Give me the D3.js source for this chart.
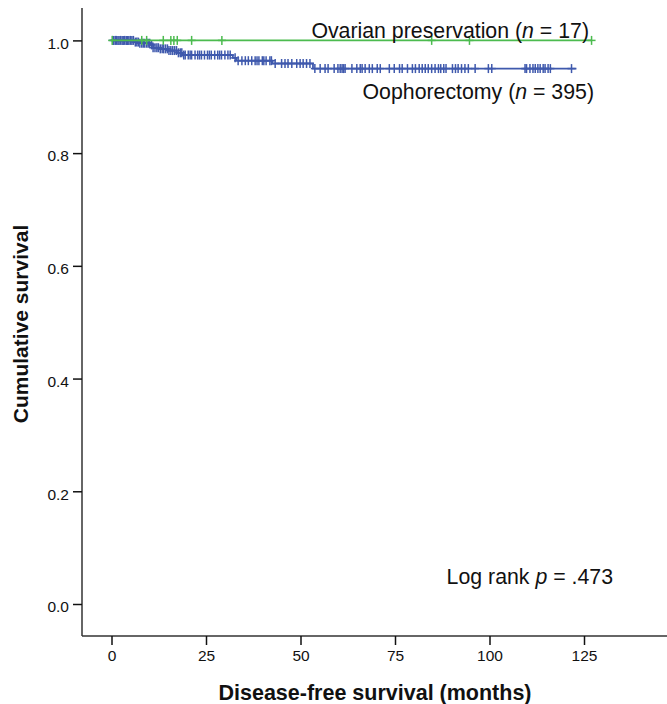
<!DOCTYPE html>
<html>
<head>
<meta charset="utf-8">
<script src="https://cdn.jsdelivr.net/npm/d3@7"></script>
<style>
  html, body { margin: 0; padding: 0; background: #fff; }
  svg { display: block; font-family: Arial, "Liberation Sans", sans-serif; }
</style>
</head>
<body>
<svg id="chart" width="667" height="704"></svg>
<script>
// ---- data ----
const xTicks = [0, 25, 50, 75, 100, 125];
const yTicks = [0.0, 0.2, 0.4, 0.6, 0.8, 1.0];

// Oophorectomy (n = 395): step times (months) and survival after each step
const oophStepTimes = [0, 6.2, 7.5, 10.2, 11, 12.8, 15, 17.3, 18.7, 32.1, 33, 42.5, 53.3];
const oophStepSurv  = [1.0, 0.997, 0.995, 0.992, 0.987, 0.985, 0.982, 0.978, 0.974, 0.969, 0.964, 0.959, 0.950];
const oophEnd = 123;
const oophCensor = [
  0.3, 0.6, 1, 1.3, 1.7, 2, 2.4, 2.8, 3.1, 3.5, 3.9, 4.3, 4.6, 5, 5.4, 5.8, 6.3, 6.7, 7.1, 7.5,
  8, 8.4, 8.8, 9.3, 9.7, 10.1, 10.6, 11, 11.5, 12, 12.4, 12.9, 13.4, 13.8, 14.3, 14.8, 15.2, 15.7,
  16.2, 16.7, 17.2, 17.7, 18.2, 18.6, 19.1, 19.5, 20.3, 20.8, 21.2, 22.1, 22.8, 23.3, 23.8, 24.6,
  25.4, 25.9, 26.4, 27.3, 28.1, 28.6, 29.1, 30.0, 30.8, 31.4,
  32.7, 33.5, 34.5, 35.4, 36.2, 37.1, 38.0, 38.5, 39, 39.9, 40.3, 40.9, 41.9, 42.3,
  43.3, 45, 45.9, 46.7, 47.7, 49, 49.9, 50.7, 51.6, 52.5,
  53.8, 55.2, 56.5, 57.3, 58.9, 59.9, 60.5, 61, 61.4, 61.8, 63.6, 64.9, 65.8, 66.3, 67.1, 68.2,
  69, 70.3, 71.1, 73.5, 74.8, 76.2, 76.9, 78.3, 79.6, 80.4, 81.4, 82.2, 83,
  83.8, 84.7, 85.6, 86.5, 87.1, 87.9, 88.5, 90.2, 91.0, 91.7, 92.6, 93.5, 94.4, 96.2, 99.7, 100.6,
  109.4, 109.8, 110.7, 111.5, 112.1, 112.8, 113.4, 114.2, 114.7, 115.5, 116.1, 121.7
];

// Ovarian preservation (n = 17): no events
const ovStepTimes = [0];
const ovStepSurv  = [1.0];
const ovEnd = 127;
const ovCensor = [0.2, 8, 9.3, 13.7, 15.7, 16.5, 17.4, 21.2, 29.2, 84.7, 94.7, 127];

// ---- layout ----
const svg = d3.select("#chart");
const x = d3.scaleLinear().domain([0, 125]).range([111.5, 584]);
const y = d3.scaleLinear().domain([0, 1]).range([604, 40.4]);
const axisColor = "#333";
const blue = "#3f59ad";
const green = "#4cbb4f";
const labelSize = 21.3;

// axes lines
svg.append("line").attr("x1", 82).attr("x2", 82).attr("y1", 8).attr("y2", 636)
  .attr("stroke", axisColor).attr("stroke-width", 1.5);
svg.append("line").attr("x1", 82).attr("x2", 667).attr("y1", 636).attr("y2", 636)
  .attr("stroke", axisColor).attr("stroke-width", 1.5);

// y axis
const yAxis = svg.append("g").attr("transform", "translate(82,0)")
  .call(d3.axisLeft(y).tickValues(yTicks).tickFormat(d3.format(".1f")).tickSize(9).tickSizeOuter(0));
yAxis.select(".domain").remove();
yAxis.selectAll(".tick line").attr("stroke", "#111").attr("stroke-width", 1.5);
yAxis.selectAll(".tick text").attr("font-size", 15.5).attr("fill", "#111")
  .attr("font-family", "Arial, 'Liberation Sans', sans-serif").attr("x", -13).attr("dy", "0.5em");

// x axis
const xAxis = svg.append("g").attr("transform", "translate(0,636)")
  .call(d3.axisBottom(x).tickValues(xTicks).tickFormat(d3.format("d")).tickSize(9).tickSizeOuter(0));
xAxis.select(".domain").remove();
xAxis.selectAll(".tick line").attr("stroke", "#111").attr("stroke-width", 1.5);
xAxis.selectAll(".tick text").attr("font-size", 15.5).attr("fill", "#111")
  .attr("font-family", "Arial, 'Liberation Sans', sans-serif").attr("y", 14).attr("dy", "0.71em");

// curves
function survAt(times, surv, t) {
  let s = surv[0];
  for (let i = 0; i < times.length; i++) if (times[i] <= t) s = surv[i];
  return s;
}
function drawCurve(times, surv, end, censor, color) {
  const pts = times.map((t, i) => [t, surv[i]]);
  pts.push([end, surv[surv.length - 1]]);
  const line = d3.line().x(d => x(d[0])).y(d => y(d[1])).curve(d3.curveStepAfter);
  svg.append("path").datum(pts).attr("d", line).attr("fill", "none")
    .attr("stroke", color).attr("stroke-width", 1.8);
  const g = svg.append("g").attr("stroke", color).attr("stroke-width", 1.5);
  censor.forEach(t => {
    const cx = x(t), cy = y(survAt(times, surv, t));
    g.append("line").attr("x1", cx).attr("x2", cx).attr("y1", cy - 4.5).attr("y2", cy + 4.5);
    g.append("line").attr("x1", cx - 4).attr("x2", cx + 4).attr("y1", cy).attr("y2", cy);
  });
}
drawCurve(oophStepTimes, oophStepSurv, oophEnd, oophCensor, blue);
drawCurve(ovStepTimes, ovStepSurv, ovEnd, ovCensor, green);

// labels
function labelN(xp, yp, name, n) {
  const t = svg.append("text").attr("x", xp).attr("y", yp).attr("text-anchor", "end")
    .attr("font-size", labelSize).attr("fill", "#111");
  t.append("tspan").text(name + " (");
  t.append("tspan").attr("font-style", "italic").text("n");
  t.append("tspan").text(" = " + n + ")");
}
labelN(589, 38, "Ovarian preservation", 17);
labelN(594, 99, "Oophorectomy", 395);

const lr = svg.append("text").attr("x", 613).attr("y", 584).attr("text-anchor", "end")
  .attr("font-size", labelSize).attr("fill", "#111");
lr.append("tspan").text("Log rank ");
lr.append("tspan").attr("font-style", "italic").text("p");
lr.append("tspan").text(" = .473");

// axis titles
svg.append("text").attr("x", 375).attr("y", 700).attr("text-anchor", "middle")
  .attr("font-size", 21.5).attr("font-weight", "bold").attr("fill", "#111")
  .text("Disease-free survival (months)");
svg.append("text").attr("transform", "translate(28,324) rotate(-90)").attr("text-anchor", "middle")
  .attr("font-size", 21).attr("font-weight", "bold").attr("fill", "#111")
  .text("Cumulative survival");
</script>
</body>
</html>
